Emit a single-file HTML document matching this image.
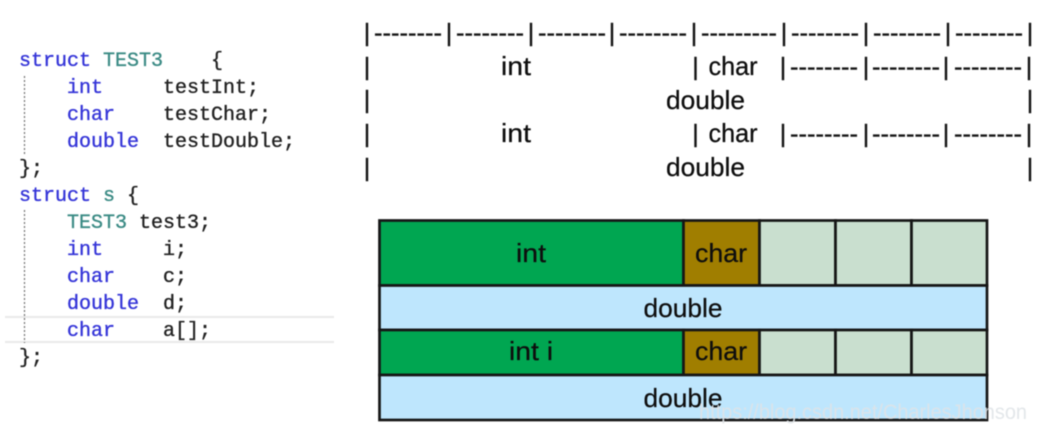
<!DOCTYPE html>
<html lang="en">
<head>
<meta charset="utf-8">
<title>Struct memory layout diagram</title>
<style>
html,body{margin:0;padding:0;background:#fff;}
body{width:1064px;height:432px;overflow:hidden;}
svg{display:block;filter:blur(0.45px);}
.code{font-family:"Liberation Mono",monospace;font-size:20px;stroke-width:0.35px;}
.kw{fill:#3535d8;stroke:#3535d8;}
.ty{fill:#3a8a84;stroke:#3a8a84;}
.tx{fill:#222222;stroke:#222222;}
.lbl{font-family:"Liberation Sans",sans-serif;font-size:26px;fill:#0e0e0e;stroke:#0e0e0e;stroke-width:0.25px;}
.ascii{font-family:"Liberation Sans",sans-serif;font-size:25px;fill:#141414;stroke:#141414;stroke-width:0.4px;}
.cell{stroke:#161616;stroke-width:2.7;}
</style>
</head>
<body>
<svg width="1064" height="432" viewBox="0 0 1064 432" xmlns="http://www.w3.org/2000/svg">
  <rect width="1064" height="432" fill="#ffffff"/>

  <g>
    <line x1="5" y1="317" x2="334" y2="317" stroke="#e9e9e9" stroke-width="2"/>
    <line x1="5" y1="342" x2="334" y2="342" stroke="#e9e9e9" stroke-width="2"/>
    <line x1="24.5" y1="76" x2="24.5" y2="155" stroke="#707070" stroke-width="1.2" stroke-dasharray="2 2"/>
    <line x1="24.5" y1="210" x2="24.5" y2="343" stroke="#707070" stroke-width="1.2" stroke-dasharray="2 2"/>

    <text class="code kw" x="19" y="66">struct</text>
    <text class="code ty" x="103" y="66">TEST3</text>
    <text class="code tx" x="211" y="66">{</text>

    <text class="code kw" x="67" y="93">int</text>
    <text class="code tx" x="163" y="93">testInt;</text>
    <text class="code kw" x="67" y="120">char</text>
    <text class="code tx" x="163" y="120">testChar;</text>
    <text class="code kw" x="67" y="147">double</text>
    <text class="code tx" x="163" y="147">testDouble;</text>
    <text class="code tx" x="19" y="174">};</text>

    <text class="code kw" x="19" y="201">struct</text>
    <text class="code ty" x="103" y="201">s</text>
    <text class="code tx" x="127" y="201">{</text>

    <text class="code ty" x="67" y="228">TEST3</text>
    <text class="code tx" x="139" y="228">test3;</text>
    <text class="code kw" x="67" y="255">int</text>
    <text class="code tx" x="163" y="255">i;</text>
    <text class="code kw" x="67" y="282">char</text>
    <text class="code tx" x="163" y="282">c;</text>
    <text class="code kw" x="67" y="309">double</text>
    <text class="code tx" x="163" y="309">d;</text>
    <text class="code kw" x="67" y="336">char</text>
    <text class="code tx" x="163" y="336">a[];</text>
    <text class="code tx" x="19" y="363">};</text>
  </g>

  <g text-anchor="middle">
    <g>
      <text class="ascii" x="367" y="41">|</text>
      <text class="ascii" x="408" y="41" textLength="68" lengthAdjust="spacingAndGlyphs">--------</text>
      <text class="ascii" x="449" y="41">|</text>
      <text class="ascii" x="490" y="41" textLength="68" lengthAdjust="spacingAndGlyphs">--------</text>
      <text class="ascii" x="531" y="41">|</text>
      <text class="ascii" x="572" y="41" textLength="68" lengthAdjust="spacingAndGlyphs">--------</text>
      <text class="ascii" x="612" y="41">|</text>
      <text class="ascii" x="653" y="41" textLength="68" lengthAdjust="spacingAndGlyphs">--------</text>
      <text class="ascii" x="694" y="41">|</text>
      <text class="ascii" x="739" y="41" textLength="76" lengthAdjust="spacingAndGlyphs">---------</text>
      <text class="ascii" x="784" y="41">|</text>
      <text class="ascii" x="825" y="41" textLength="68" lengthAdjust="spacingAndGlyphs">--------</text>
      <text class="ascii" x="866" y="41">|</text>
      <text class="ascii" x="907" y="41" textLength="68" lengthAdjust="spacingAndGlyphs">--------</text>
      <text class="ascii" x="948" y="41">|</text>
      <text class="ascii" x="989" y="41" textLength="68" lengthAdjust="spacingAndGlyphs">--------</text>
      <text class="ascii" x="1030" y="41">|</text>
    </g>
    <g>
      <text class="ascii" x="367" y="75">|</text>
      <text class="lbl" x="516" y="75" textLength="30" lengthAdjust="spacingAndGlyphs">int</text>
      <text class="ascii" x="695.5" y="75">|</text>
      <text class="lbl" x="733" y="75" textLength="49" lengthAdjust="spacingAndGlyphs">char</text>
      <text class="ascii" x="783" y="75">|</text>
      <text class="ascii" x="824" y="75" textLength="68" lengthAdjust="spacingAndGlyphs">--------</text>
      <text class="ascii" x="866" y="75">|</text>
      <text class="ascii" x="906" y="75" textLength="68" lengthAdjust="spacingAndGlyphs">--------</text>
      <text class="ascii" x="946" y="75">|</text>
      <text class="ascii" x="988" y="75" textLength="68" lengthAdjust="spacingAndGlyphs">--------</text>
      <text class="ascii" x="1029" y="75">|</text>
    </g>
    <g>
      <text class="ascii" x="367" y="108">|</text>
      <text class="lbl" x="705.5" y="109" textLength="79" lengthAdjust="spacingAndGlyphs">double</text>
      <text class="ascii" x="1030" y="108">|</text>
    </g>
    <g>
      <text class="ascii" x="367" y="142">|</text>
      <text class="lbl" x="516" y="142" textLength="30" lengthAdjust="spacingAndGlyphs">int</text>
      <text class="ascii" x="695.5" y="142">|</text>
      <text class="lbl" x="733" y="142" textLength="49" lengthAdjust="spacingAndGlyphs">char</text>
      <text class="ascii" x="783" y="142">|</text>
      <text class="ascii" x="824" y="142" textLength="68" lengthAdjust="spacingAndGlyphs">--------</text>
      <text class="ascii" x="866" y="142">|</text>
      <text class="ascii" x="906" y="142" textLength="68" lengthAdjust="spacingAndGlyphs">--------</text>
      <text class="ascii" x="946" y="142">|</text>
      <text class="ascii" x="988" y="142" textLength="68" lengthAdjust="spacingAndGlyphs">--------</text>
      <text class="ascii" x="1029" y="142">|</text>
    </g>
    <g>
      <text class="ascii" x="367" y="176">|</text>
      <text class="lbl" x="705.5" y="176" textLength="79" lengthAdjust="spacingAndGlyphs">double</text>
      <text class="ascii" x="1030" y="176">|</text>
    </g>
  </g>

  <g>
    <rect class="cell" x="379.5" y="220.5" width="304" height="65" fill="#00a651"/>
    <rect class="cell" x="683.5" y="220.5" width="76" height="65" fill="#a07e00"/>
    <rect class="cell" x="759.5" y="220.5" width="76" height="65" fill="#c9dfcf"/>
    <rect class="cell" x="835.5" y="220.5" width="76" height="65" fill="#c9dfcf"/>
    <rect class="cell" x="911.5" y="220.5" width="75.5" height="65" fill="#c9dfcf"/>
    <rect class="cell" x="379.5" y="285.5" width="607.5" height="44.5" fill="#bee6fd"/>
    <rect class="cell" x="379.5" y="330" width="304" height="45" fill="#00a651"/>
    <rect class="cell" x="683.5" y="330" width="76" height="45" fill="#a07e00"/>
    <rect class="cell" x="759.5" y="330" width="76" height="45" fill="#c9dfcf"/>
    <rect class="cell" x="835.5" y="330" width="76" height="45" fill="#c9dfcf"/>
    <rect class="cell" x="911.5" y="330" width="75.5" height="45" fill="#c9dfcf"/>
    <rect class="cell" x="379.5" y="375" width="607.5" height="45" fill="#bee6fd"/>

    <g text-anchor="middle">
      <text class="lbl" x="531" y="262" textLength="30" lengthAdjust="spacingAndGlyphs">int</text>
      <text class="lbl" x="721" y="262" textLength="52" lengthAdjust="spacingAndGlyphs">char</text>
      <text class="lbl" x="683" y="317" textLength="79" lengthAdjust="spacingAndGlyphs">double</text>
      <text class="lbl" x="531" y="360" textLength="44" lengthAdjust="spacingAndGlyphs">int i</text>
      <text class="lbl" x="721" y="360" textLength="52" lengthAdjust="spacingAndGlyphs">char</text>
      <text class="lbl" x="683" y="407" textLength="79" lengthAdjust="spacingAndGlyphs">double</text>
    </g>
  </g>

  <text x="699" y="419" font-family="'Liberation Sans',sans-serif" font-size="21" fill="#dfe4e7" fill-opacity="0.88" textLength="328" lengthAdjust="spacingAndGlyphs">https://blog.csdn.net/CharlesJhonson</text>
</svg>
</body>
</html>
